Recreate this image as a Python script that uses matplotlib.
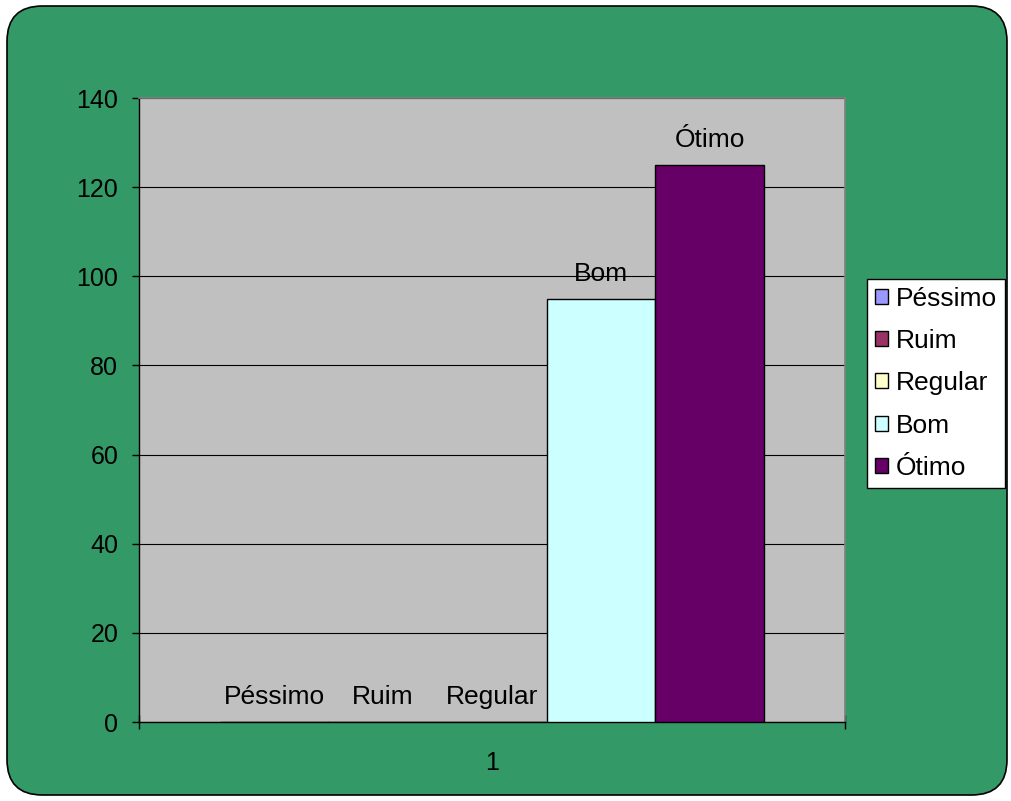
import matplotlib
matplotlib.use("Agg")
import matplotlib.pyplot as plt
from matplotlib.patches import FancyBboxPatch, Patch

plt.rcParams['font.family'] = ['Liberation Sans', 'DejaVu Sans']

series = ["Péssimo", "Ruim", "Regular", "Bom", "Ótimo"]
values = [0, 0, 0, 95, 125]
colors = ["#9999FF", "#993366", "#FFFFCC", "#CCFFFF", "#660066"]
category = ["1"]
yticks = [0, 20, 40, 60, 80, 100, 120, 140]

W, H = 1012, 801
fig = plt.figure(figsize=(W/100, H/100), dpi=100)
fig.patch.set_facecolor("white")

bg = FancyBboxPatch((7/W, 6/H), (1007-7)/W, (795-6)/H,
                    boxstyle="round,pad=0,rounding_size=0.035",
                    transform=fig.transFigure, facecolor="#339966",
                    edgecolor="black", linewidth=1.2, mutation_aspect=W/H,
                    zorder=-10)
fig.patches.append(bg)

ax = fig.add_axes([139/W, 1-722/H, (845-139)/W, (722-98)/H])
ax.set_facecolor("#C0C0C0")
ax.set_xlim(0.5, 1.5)
ax.set_ylim(0, 140)

FS_LABEL = 19
FS_TICK = 18
bw = 109/706
n = len(series)
for i, (s, v, c) in enumerate(zip(series, values, colors)):
    x = 1 + (i - (n-1)/2) * bw
    ax.bar(x, v, width=bw, color=c, edgecolor="black", linewidth=1.0, zorder=3)
    ax.annotate(s, xy=(x, v), xytext=(0, 13), textcoords="offset points",
                ha="center", va="baseline", fontsize=FS_LABEL, zorder=4)

ax.set_yticks(yticks)
ax.set_yticklabels([str(t) for t in yticks], fontsize=FS_TICK)
ax.yaxis.grid(True, color="black", linewidth=0.8, zorder=1)
ax.set_axisbelow(True)
ax.tick_params(axis="y", direction="out", length=5, width=1, pad=10)

ax.set_xticks([0.5, 1.5])
ax.set_xticklabels(["", ""])
ax.set_xticks([1], minor=True)
ax.set_xticklabels(category, minor=True, fontsize=FS_TICK)
ax.tick_params(axis="x", which="major", direction="inout", length=10, width=1)
ax.tick_params(axis="x", which="minor", length=0, pad=21)

for sp in ["top", "right"]:
    ax.spines[sp].set_color("#808080")
    ax.spines[sp].set_linewidth(1.2)
for sp in ["left", "bottom"]:
    ax.spines[sp].set_color("black")
    ax.spines[sp].set_linewidth(1.0)

handles = [Patch(facecolor=c, edgecolor="black", linewidth=1.0) for c in colors]
leg = fig.legend(handles, series, loc="upper left",
                 bbox_to_anchor=(867/W, 1-279/H), borderaxespad=0,
                 fontsize=19, frameon=True, fancybox=False, framealpha=1,
                 handlelength=0.5, handleheight=0.5, handletextpad=0.3,
                 labelspacing=0.69, borderpad=0.3)
leg.get_frame().set_edgecolor("black")
leg.get_frame().set_linewidth(1.0)
leg.get_frame().set_facecolor("white")

fig.savefig("out.png", dpi=100)
